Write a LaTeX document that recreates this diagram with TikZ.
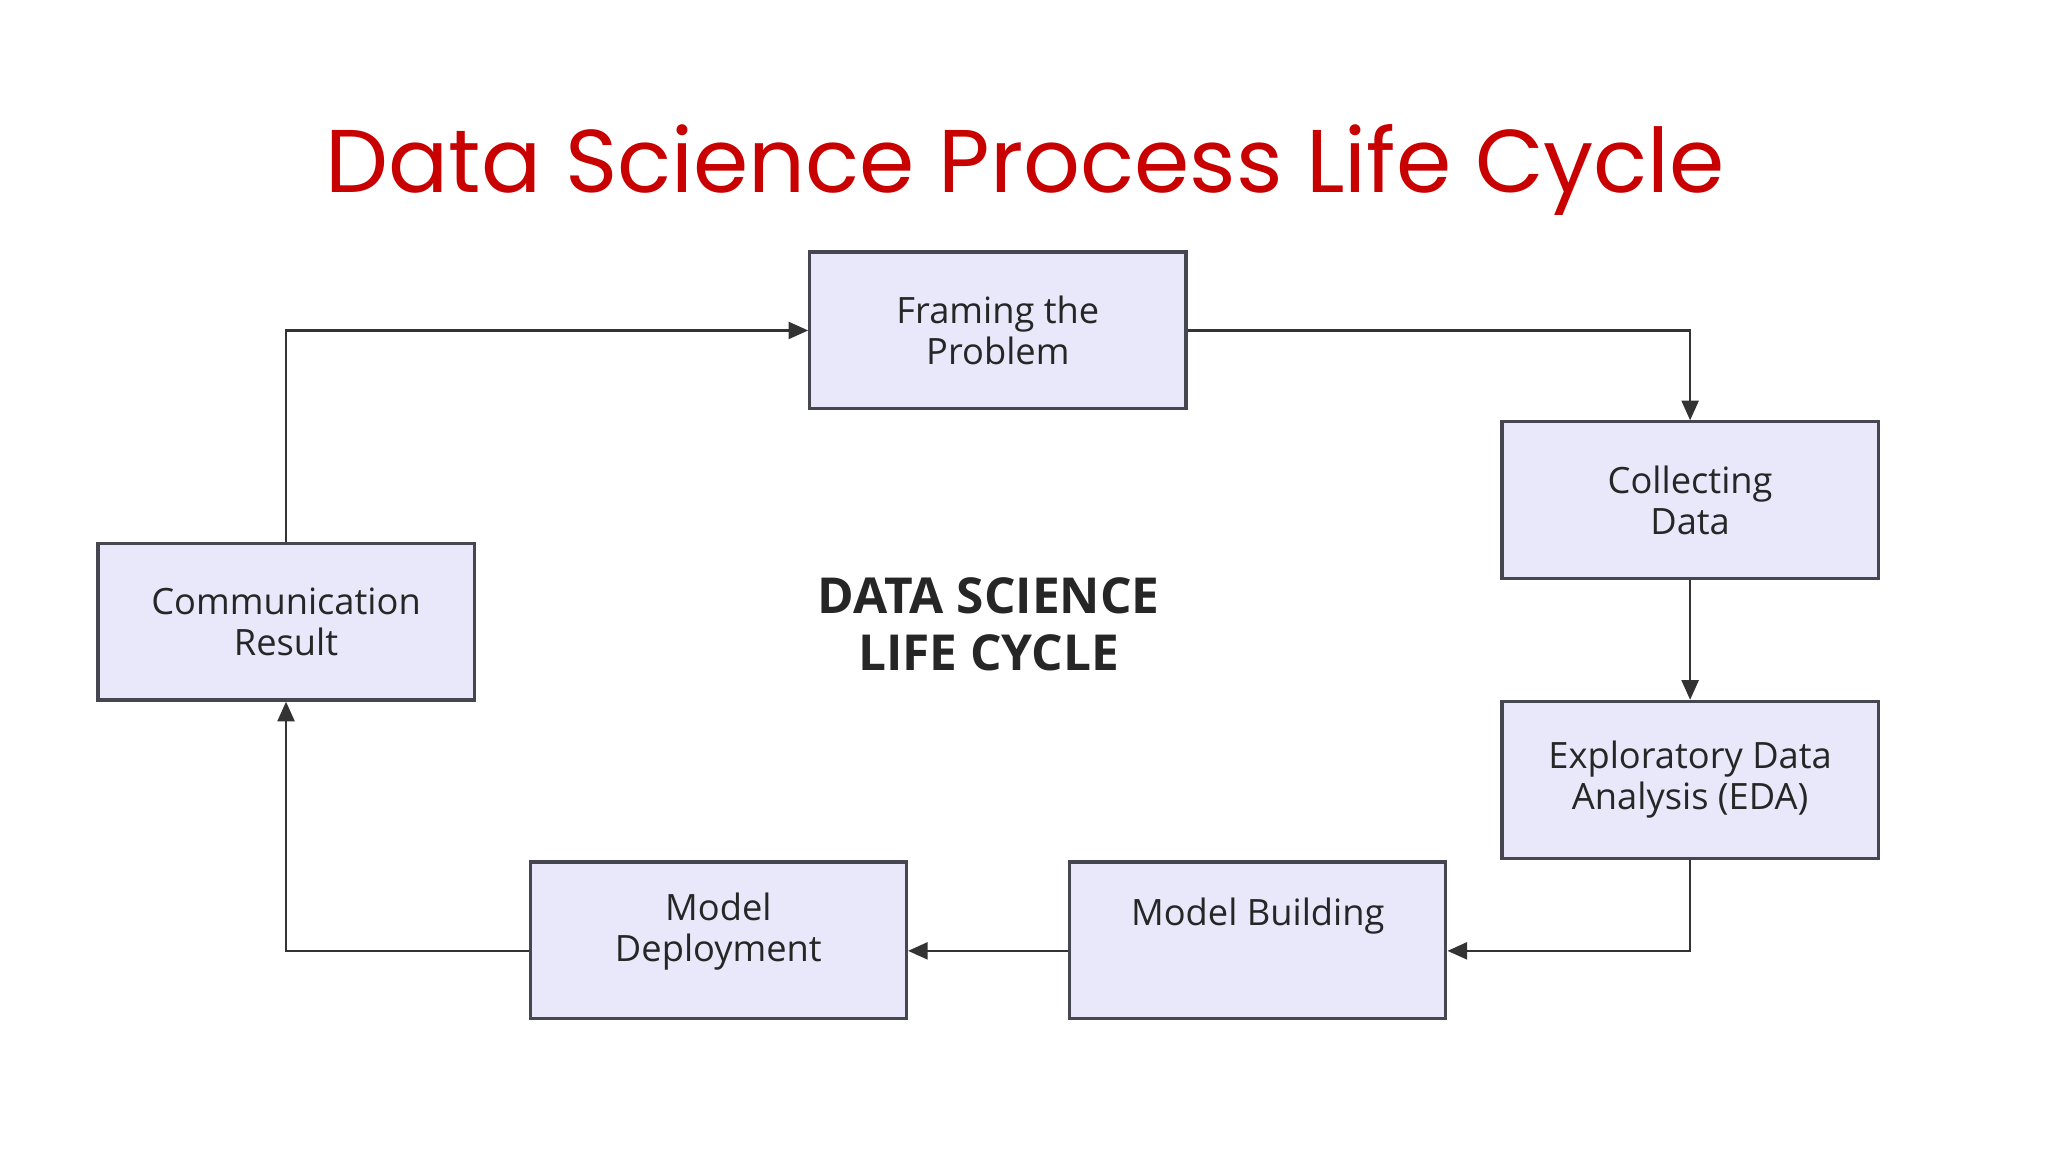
\documentclass[tikz,border=0pt]{standalone}
\usepackage{fontspec}
\setmainfont{Open Sans}
\newfontfamily\titlefont{Poppins}
\usetikzlibrary{arrows.meta}
\definecolor{boxfill}{RGB}{232,232,250}
\definecolor{boxline}{RGB}{70,70,80}
\definecolor{titlered}{RGB}{200,0,0}
\tikzset{
  stage/.style={draw=boxline, line width=0.7pt, fill=boxfill, minimum width=28.8mm, minimum height=12mm, align=center, font=\fontsize{7.9}{9}\selectfont, text=black!85, inner sep=0pt},
  flow/.style={draw=black!80, line width=0.5pt, -{Triangle[length=1.5mm,width=1.3mm]}}
}
\begin{document}
\begin{tikzpicture}[x=0.1mm,y=-0.1mm]
\useasboundingbox (0,0) rectangle (1568,882);
\node[font=\titlefont\fontsize{19.4}{22}\selectfont, text=titlered] (title) at (785,130) {Data Science Process Life Cycle};
\node[stage] (frame) at (764,253) {Framing the\\Problem};
\node[stage] (collect) at (1294,383) {Collecting\\Data};
\node[stage] (eda) at (1294,597) {Exploratory Data\\Analysis (EDA)};
\node[stage, text depth=4.4mm] (build) at (963,720) {Model Building};
\node[stage, text depth=2mm] (deploy) at (550,720) {Model\\Deployment};
\node[stage] (comm) at (219,476) {Communication\\Result};
\node[font=\bfseries\fontsize{10.8}{12.3}\selectfont, align=center, text=black!85] (center) at (757,478) {DATA SCIENCE\\LIFE CYCLE};
\coordinate (c1) at (1294,253);
\coordinate (c2) at (1294,728);
\coordinate (c3) at (219,728);
\coordinate (c4) at (219,253);
\draw[flow] (frame.east) -- (c1) -- (collect.north);
\draw[flow] (collect.south) -- (eda.north);
\draw[flow] (eda.south) -- (c2) -- (build.east |- c2);
\draw[flow] (build.west |- c2) -- (deploy.east |- c2);
\draw[flow] (deploy.west |- c2) -- (c3) -- (comm.south);
\draw[flow] (comm.north) -- (c4) -- (frame.west);
\end{tikzpicture}
\end{document}
